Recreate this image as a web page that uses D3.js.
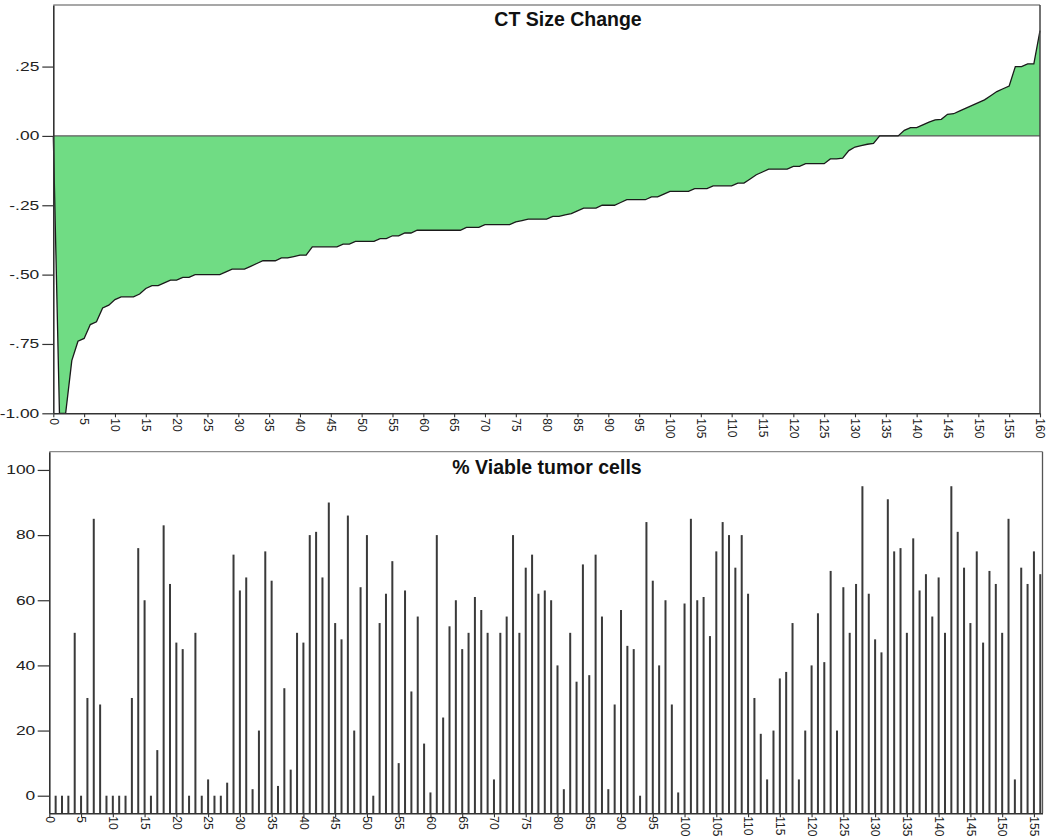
<!DOCTYPE html>
<html>
<head>
<meta charset="utf-8">
<script src="https://cdn.jsdelivr.net/npm/d3@7"></script>
<style>
  body { margin: 0; background: #fff; }
  svg { display: block; font-family: "Liberation Sans", Arial, sans-serif; }
</style>
</head>
<body>
<div class="canvas"></div>
<script>
// CT size change per case (sorted), case 0..160
const ctSizeChange = [
  0, -1.0, -1.0, -0.81, -0.74, -0.73, -0.68, -0.67, -0.62, -0.61,
  -0.59, -0.58, -0.58, -0.58, -0.57, -0.55, -0.54, -0.54, -0.53, -0.52,
  -0.52, -0.51, -0.51, -0.5, -0.5, -0.5, -0.5, -0.5, -0.49, -0.48,
  -0.48, -0.48, -0.47, -0.46, -0.45, -0.45, -0.45, -0.44, -0.44, -0.435,
  -0.43, -0.43, -0.4, -0.4, -0.4, -0.4, -0.4, -0.39, -0.39, -0.38,
  -0.38, -0.38, -0.38, -0.37, -0.37, -0.36, -0.36, -0.35, -0.35, -0.34,
  -0.34, -0.34, -0.34, -0.34, -0.34, -0.34, -0.34, -0.33, -0.33, -0.33,
  -0.32, -0.32, -0.32, -0.32, -0.32, -0.31, -0.305, -0.3, -0.3, -0.3,
  -0.3, -0.29, -0.29, -0.285, -0.28, -0.27, -0.26, -0.26, -0.26, -0.25,
  -0.25, -0.25, -0.24, -0.23, -0.23, -0.23, -0.23, -0.22, -0.22, -0.21,
  -0.2, -0.2, -0.2, -0.2, -0.19, -0.19, -0.19, -0.18, -0.18, -0.18,
  -0.18, -0.17, -0.17, -0.155, -0.14, -0.13, -0.12, -0.12, -0.12, -0.12,
  -0.11, -0.11, -0.1, -0.1, -0.1, -0.1, -0.083, -0.083, -0.08, -0.053,
  -0.04, -0.035, -0.03, -0.027, 0, 0, 0, 0, 0.02, 0.03,
  0.03, 0.04, 0.05, 0.058, 0.06, 0.078, 0.08, 0.09, 0.1, 0.11,
  0.12, 0.13, 0.145, 0.16, 0.17, 0.18, 0.25, 0.25, 0.26, 0.26,
  0.38
];

// % viable tumor cells, case 1..156
const viableCells = [
  0, 0, 0, 50, 0, 30, 85, 28, 0, 0, 0, 0, 30, 76, 60, 0, 14, 83, 65, 47,
  45, 0, 50, 0, 5, 0,
  0, 4, 74, 63, 67, 2, 20, 75, 66, 3, 33, 8, 50, 47, 80, 81, 67, 90, 53, 48,
  86, 20, 64, 80, 0, 53, 62, 72, 10, 63, 32, 55, 16,
  1, 80, 24, 52, 60, 45, 50, 61, 57, 50, 5, 50, 55, 80, 50, 70, 74, 62, 63, 60,
  40, 2, 50, 35, 71, 37, 74, 55, 2, 28, 57, 46, 45,
  0, 84, 66, 40, 60, 28, 1, 59, 85, 60, 61, 49, 75, 84, 80, 70, 80, 62, 30, 19,
  5, 20, 36, 38, 53, 5, 20, 40, 56, 41, 69, 20, 64,
  50, 65, 95, 62, 48, 44, 91, 75, 76, 50, 79, 63, 68, 55, 67, 50, 95, 81, 70, 53,
  75, 47, 69, 65, 50, 85, 5, 70, 65, 75, 68
];

// tick labels
const ctTickValues = [0.25, 0, -0.25, -0.5, -0.75, -1];
const ctTickLabels = [".25", ".00", "-.25", "-.50", "-.75", "-1.00"];
const viableTickValues = [0, 20, 40, 60, 80, 100];
const ctCaseTicks = d3.range(0, 161, 5);
const viableCaseTicks = d3.range(0, 156, 5);

// dimensions
const w = 1050;
const h = 836;
const ctBox = { left: 53.3, right: 1040, top: 5, bottom: 413.3 };
const vbBox = { left: 49.3, right: 1042.5, top: 451.7, bottom: 813.3 };
const labelStretch = 1.45; // y labels in the source are drawn wide

const svg = d3.select(".canvas").append("svg").attr("width", w).attr("height", h);

// scales
const xCT = d3.scaleLinear().domain([0, 160]).range([ctBox.left, ctBox.right]);
const yCT = d3.scaleLinear().domain([-1, 0.472]).range([ctBox.bottom, ctBox.top]);
const xV = d3.scaleLinear().domain([0, 156.35]).range([vbBox.left, vbBox.right]);
const yV = d3.scaleLinear().domain([-5.4, 105.6]).range([vbBox.bottom, vbBox.top]);

// ---------- top panel: CT size change ----------
const ctPanel = svg.append("g");

ctPanel.append("path")
  .datum(ctSizeChange)
  .attr("fill", "#70dc84")
  .attr("d", d3.area().x((d, i) => xCT(i)).y0(yCT(0)).y1((d) => yCT(d)));

// reference line at zero
ctPanel.append("line")
  .attr("x1", ctBox.left).attr("x2", ctBox.right)
  .attr("y1", yCT(0)).attr("y2", yCT(0))
  .attr("stroke", "#5a5a5a").attr("stroke-width", 1.3);

ctPanel.append("path")
  .datum(ctSizeChange)
  .attr("fill", "none")
  .attr("stroke", "#1a1a1a")
  .attr("stroke-width", 1.3)
  .attr("d", d3.line().x((d, i) => xCT(i)).y((d) => yCT(d)));

// frame
ctPanel.append("line")
  .attr("x1", ctBox.left).attr("x2", ctBox.right)
  .attr("y1", ctBox.top).attr("y2", ctBox.top)
  .attr("stroke", "#8a8a8a").attr("stroke-width", 1.3);
ctPanel.append("line")
  .attr("x1", ctBox.right).attr("x2", ctBox.right)
  .attr("y1", ctBox.top).attr("y2", ctBox.bottom)
  .attr("stroke", "#444").attr("stroke-width", 1.5);

// axes
const ctLeft = ctPanel.append("g")
  .attr("transform", `translate(${ctBox.left},0)`)
  .call(d3.axisLeft(yCT).tickValues(ctTickValues).tickSize(11).tickSizeOuter(0)
    .tickFormat((d, i) => ctTickLabels[i]));

const ctBottom = ctPanel.append("g")
  .attr("transform", `translate(0,${ctBox.bottom})`)
  .call(d3.axisBottom(xCT).tickValues(ctCaseTicks).tickSize(4).tickSizeOuter(0));

ctPanel.append("text")
  .attr("x", 568)
  .attr("y", 26)
  .attr("text-anchor", "middle")
  .attr("font-weight", "bold")
  .attr("font-size", "19.5px")
  .attr("fill", "#111")
  .text("CT Size Change");

// ---------- bottom panel: % viable tumor cells ----------
const vbPanel = svg.append("g");

vbPanel.selectAll("rect.bar")
  .data(viableCells)
  .enter()
  .append("rect")
  .attr("class", "bar")
  .attr("x", (d, i) => xV(i + 1) - 1)
  .attr("width", 2)
  .attr("y", (d) => yV(d))
  .attr("height", (d) => yV(-5.4) - yV(d))
  .attr("fill", "#3a3a3a");

// frame
vbPanel.append("line")
  .attr("x1", vbBox.left).attr("x2", vbBox.right)
  .attr("y1", vbBox.top).attr("y2", vbBox.top)
  .attr("stroke", "#8a8a8a").attr("stroke-width", 1.3);
vbPanel.append("line")
  .attr("x1", vbBox.right).attr("x2", vbBox.right)
  .attr("y1", vbBox.top).attr("y2", vbBox.bottom)
  .attr("stroke", "#555").attr("stroke-width", 1.3);

const vLeft = vbPanel.append("g")
  .attr("transform", `translate(${vbBox.left},0)`)
  .call(d3.axisLeft(yV).tickValues(viableTickValues).tickSize(11.6).tickSizeOuter(0));

const vBottom = vbPanel.append("g")
  .attr("transform", `translate(0,${vbBox.bottom})`)
  .call(d3.axisBottom(xV).tickValues(viableCaseTicks).tickSize(4).tickSizeOuter(0));

vbPanel.append("text")
  .attr("x", 547)
  .attr("y", 474)
  .attr("text-anchor", "middle")
  .attr("font-weight", "bold")
  .attr("font-size", "19.5px")
  .attr("fill", "#111")
  .text("% Viable tumor cells");

// shared axis styling
[ctLeft, vLeft].forEach((g) => {
  g.select(".domain").attr("stroke", "#333").attr("stroke-width", 1.6);
  g.selectAll(".tick line").attr("stroke", "#333").attr("stroke-width", 1.2);
  g.selectAll(".tick text")
    .attr("font-size", "12px")
    .attr("font-family", null)
    .attr("fill", "#222")
    .attr("x", 0)
    .attr("transform", `translate(-14,0) scale(${labelStretch},1)`);
});

[[ctBottom, 5], [vBottom, 3]].forEach(([g, gap]) => {
  g.select(".domain").attr("stroke", "#333").attr("stroke-width", 1.6);
  g.selectAll(".tick line").attr("stroke", "#333").attr("stroke-width", 1.1);
  g.selectAll(".tick text")
    .attr("font-size", "12px")
    .attr("font-family", null)
    .attr("fill", "#222")
    .attr("text-anchor", "start")
    .attr("transform", "rotate(90)")
    .attr("x", gap)
    .attr("y", 0)
    .attr("dy", "0.35em");
});
</script>
</body>
</html>
